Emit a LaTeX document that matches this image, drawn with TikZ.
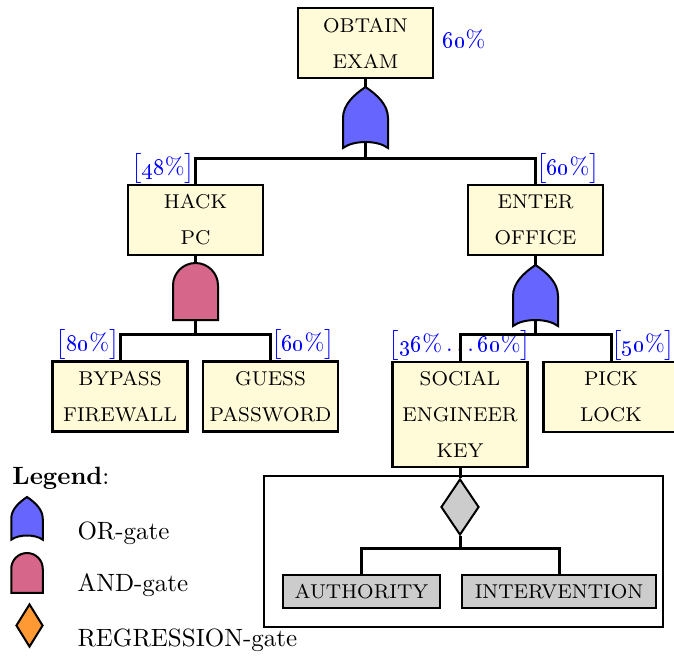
\documentclass[tikz,border=0pt]{standalone}
\usetikzlibrary{shapes.geometric}
\definecolor{eventfill}{RGB}{255,250,215}
\definecolor{orfill}{RGB}{102,102,255}
\definecolor{andfill}{RGB}{214,102,138}
\definecolor{leaffill}{RGB}{204,204,204}
\definecolor{regfill}{RGB}{255,153,51}
\newcommand\brk[1]{$\bigl[$#1$\bigr]$}
\tikzset{
  event/.style={draw,line width=0.9pt,fill=eventfill,font=\fontsize{8}{12}\selectfont,align=center,
    minimum width=54pt,minimum height=28pt,inner sep=0pt},
  leaf/.style={draw,line width=0.9pt,fill=leaffill,font=\fontsize{8}{12}\selectfont,
    minimum height=13.2pt,inner sep=0pt},
  conn/.style={line width=1.2pt},
  gateline/.style={line width=0.8pt},
  prob/.style={text=blue,inner sep=0pt,font=\fontsize{9.5}{11}\selectfont},
  regress/.style={draw,gateline,diamond,inner sep=0pt,
    minimum width=15.2pt,minimum height=22.4pt},
  orgate/.pic={
    \draw[gateline,fill=orfill] (0,0) .. controls (12,8) and (22.5,18) .. (22.5,31)
      -- (22.5,61) .. controls (12,53) and (-12,53) .. (-22.5,61)
      -- (-22.5,31) .. controls (-22.5,18) and (-12,8) .. cycle;
    \coordinate (-top) at (0,0);
    \coordinate (-bot) at (0,56);
  },
  andgate/.pic={
    \draw[gateline,fill=andfill] (-22.5,57) -- (-22.5,22.5)
      .. controls (-22.5,10) and (-12.4,0) .. (0,0)
      .. controls (12.4,0) and (22.5,10) .. (22.5,22.5) -- (22.5,57) -- cycle;
    \coordinate (-top) at (0,0);
    \coordinate (-bot) at (0,57);
  },
}
\begin{document}
\begin{tikzpicture}[x=0.4pt,y=-0.4pt]
    \useasboundingbox (0,0) rectangle (674,656);
    % Events
    \node[event] (obtain) at (365.5,43) {OBTAIN\\[2.4pt]EXAM};
    \node[event] (hack) at (195.5,220) {HACK\\[2.4pt]PC};
    \node[event] (enter) at (535.5,220) {ENTER\\[2.4pt]OFFICE};
    \node[event] (bypass) at (120,396.5) {BYPASS\\[2.4pt]FIREWALL};
    \node[event] (guess) at (270.5,396.5) {GUESS\\[2.4pt]PASSWORD};
    \node[event,minimum height=42pt] (social) at (460,414.5) {SOCIAL\\[2.4pt]ENGINEER\\[2.4pt]KEY};
    \node[event] (pick) at (611,397) {PICK\\[2.4pt]LOCK};
    % Probabilities
    \node[prob] (pobtain) at (464,39) {\oldstylenums{60}\%};
    \node[prob,anchor=south east] (phack) at (hack.north) {\brk{\oldstylenums{48}\%}};
    \node[prob,anchor=south west] (penter) at (enter.north) {\brk{\oldstylenums{60}\%}};
    \node[prob,anchor=south east] (pbypass) at (bypass.north) {\brk{\oldstylenums{80}\%}};
    \node[prob,anchor=south west] (pguess) at (guess.north) {\brk{\oldstylenums{60}\%}};
    \node[prob,anchor=south] (psocial) at (social.north) {\brk{\oldstylenums{36}\%\,.\,.\,.\,\oldstylenums{60}\%}};
    \node[prob,anchor=south west] (ppick) at (pick.north) {\brk{\oldstylenums{50}\%}};
    % Gates
    \pic (g1) at (365.5,87) {orgate};
    \pic (g2) at (195.5,263) {andgate};
    \pic (g3) at (535.5,265) {orgate};
    \node[regress,fill=leaffill] (reg) at (460,507) {};
    % Regression frame
    \draw[line width=0.8pt] (264,476) rectangle (663,627);
    \node[leaf,minimum width=62.8pt] (authority) at (361.5,591.5) {AUTHORITY};
    \node[leaf,minimum width=77.6pt] (intervention) at (559,591.5) {INTERVENTION};
    % Connectors
    \coordinate (b1) at (365.5,158);
    \coordinate (b2) at (195.5,334);
    \coordinate (b3) at (535.5,334);
    \coordinate (b4) at (460,548);
    \draw[conn] (obtain) -- (g1-top);
    \draw[conn] (g1-bot) -- (b1);
    \draw[conn] (hack.north) |- (b1) -| (enter.north);
    \draw[conn] (hack) -- (g2-top);
    \draw[conn] (g2-bot) -- (b2);
    \draw[conn] (bypass.north) |- (b2) -| (guess.north);
    \draw[conn] (enter) -- (g3-top);
    \draw[conn] (g3-bot) -- (b3);
    \draw[conn] (social.north) |- (b3) -| (pick.north);
    \draw[conn] (social) -- (reg);
    \draw[conn] (reg) -- (b4);
    \draw[conn] (authority.north) |- (b4) -| (intervention.north);
    % Legend
    \node[anchor=west,inner sep=0pt] (legend) at (12,478) {\textbf{Legend}:};
    \pic[scale=0.7] (lor) at (27,497) {orgate};
    \pic[scale=0.7] (land) at (27,553) {andgate};
    \node[regress,fill=regfill,minimum width=10.8pt,minimum height=17.2pt] (lreg) at (29.5,625.5) {};
    \node[anchor=west,inner sep=0pt] (tor) at (77,533) {OR-gate};
    \node[anchor=west,inner sep=0pt] (tand) at (77,585) {AND-gate};
    \node[anchor=west,inner sep=0pt] (treg) at (77,640) {REGRESSION-gate};
\end{tikzpicture}
\end{document}
